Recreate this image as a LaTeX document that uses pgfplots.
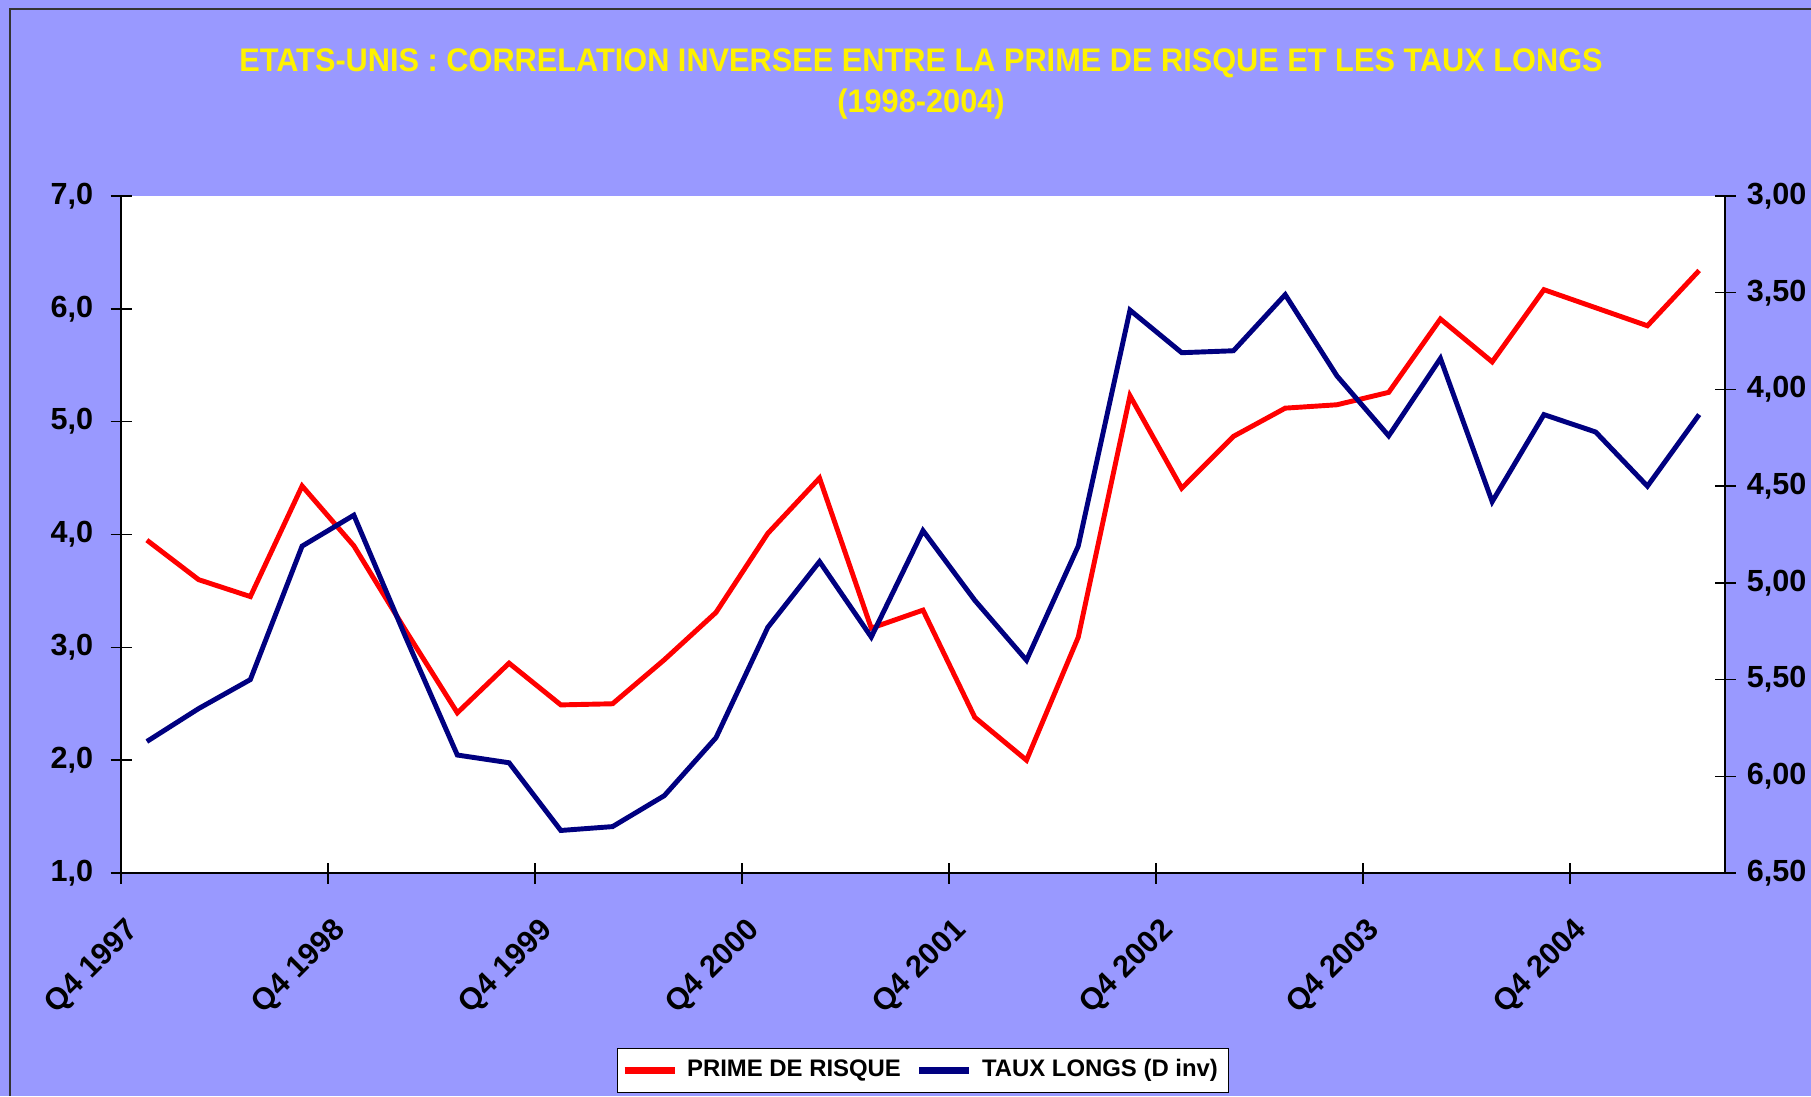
\documentclass[border=0pt]{standalone}
\usepackage{pgfplots}
\pgfplotsset{compat=1.18}
\usepackage{pgfplotstable}
\usepackage{fontspec}
\setmainfont{Liberation Sans}
\newfontfamily\titlefont[FakeStretch=0.94]{Liberation Sans}

\definecolor{bgcol}{HTML}{9999FF}
\definecolor{navyline}{HTML}{000080}

% quarter index, prime de risque (left axis), taux longs (right axis, reversed)
\pgfplotstableread{
q  prime taux
0  3.95  5.82
1  3.60  5.65
2  3.45  5.50
3  4.43  4.81
4  3.90  4.65
5  3.15  5.28
6  2.42  5.89
7  2.86  5.93
8  2.49  6.28
9  2.50  6.26
10 2.89  6.10
11 3.31  5.80
12 4.01  5.23
13 4.50  4.89
14 3.17  5.28
15 3.33  4.73
16 2.38  5.09
17 2.00  5.40
18 3.09  4.81
19 5.23  3.59
20 4.41  3.81
21 4.87  3.80
22 5.12  3.51
23 5.15  3.93
24 5.26  4.24
25 5.91  3.84
26 5.53  4.58
27 6.17  4.13
28 6.01  4.22
29 5.85  4.50
30 6.34  4.13
}\data

\pgfplotsset{
  chartax/.style={
    scale only axis,
    width=16.04cm, height=6.77cm,
    at={(1.21cm,2.23cm)}, anchor=south west,
    xmin=-0.5, xmax=30.5,
    tick align=center,
    major tick length=0.21cm,
    tick style={black, line width=0.4pt},
    axis line style={black, line width=0.5pt},
    ticklabel style={font=\fontsize{8.7}{10}\selectfont\bfseries},
    /pgf/number format/assume math mode=true,
    /pgf/number format/use comma,
    /pgf/number format/fixed,
    /pgf/number format/fixed zerofill,
  },
}

\begin{document}
\begin{tikzpicture}
\fill[bgcol] (0,0) rectangle (18.11,10.96);
\useasboundingbox (0,0) rectangle (18.11,10.96);
\draw[black!80, line width=0.6pt] (0.10,0) -- (0.10,10.87) -- (18.2,10.87);

\node[align=center, text=yellow, font=\titlefont\fontsize{9.3}{11.4}\selectfont\bfseries]
  at (9.21,10.12) {ETATS-UNIS : CORRELATION INVERSEE ENTRE LA PRIME DE RISQUE ET LES TAUX LONGS\\(1998-2004)};

\begin{axis}[
  chartax,
  axis background/.style={fill=white},
  axis x line*=bottom, axis y line*=left,
  ymin=1, ymax=7,
  ytick={1,2,...,7},
  yticklabel style={/pgf/number format/precision=1},
  yticklabel shift=0.05cm,
  xtick={-0.44,3.56,...,27.56},
  xticklabels={Q4 1997,Q4 1998,Q4 1999,Q4 2000,Q4 2001,Q4 2002,Q4 2003,Q4 2004},
  xtick style={draw=none},
  xticklabel style={rotate=45, anchor=north east},
  xticklabel shift=0.15cm,
]
\addplot[red, line width=1.4pt] table[x=q, y=prime] {\data};
\end{axis}

\begin{axis}[
  chartax,
  axis x line*=bottom, axis y line*=right,
  y dir=reverse,
  ymin=3, ymax=6.5,
  ytick={3,3.5,...,6.5},
  yticklabel style={/pgf/number format/precision=2},
  yticklabel shift=-0.01cm,
  xtick={-0.5,3.5,...,27.5},
  xticklabels={},
  legend style={at={(0.5,-0.2917)}, anchor=center, draw=black, fill=white,
    font=\fontsize{6.8}{8}\selectfont\bfseries, inner sep=1pt,
    /tikz/every odd column/.append style={column sep=0.02cm},
    /tikz/every even column/.append style={column sep=0.08cm}},
  legend columns=2,
  legend image code/.code={\draw[#1, line width=2pt] (0cm,0cm) -- (0.5cm,0cm);},
]
\addlegendimage{red, line width=1.4pt}
\addlegendentry{PRIME DE RISQUE}
\addplot[navyline, line width=1.4pt] table[x=q, y=taux] {\data};
\addlegendentry{TAUX LONGS (D inv)}
\end{axis}
\end{tikzpicture}
\end{document}
